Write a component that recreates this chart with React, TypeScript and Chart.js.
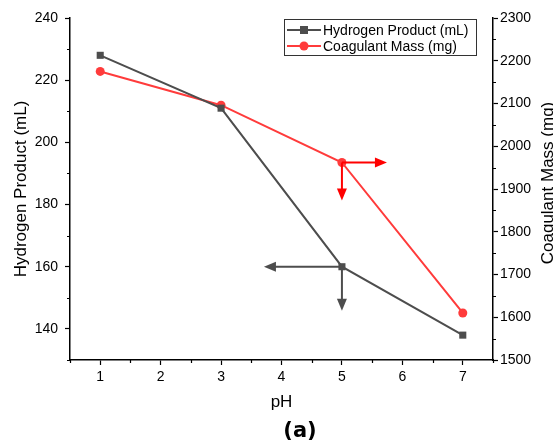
import React, { useEffect, useRef } from 'react';
import { Chart, registerables } from 'chart.js';

Chart.register(...registerables);

const phValues = [1, 3, 5, 7];
const hydrogenProduct = [228, 211, 160, 138];
const coagulantMass = [2175, 2096, 1962, 1610];

const xTickValues = [1, 2, 3, 4, 5, 6, 7];
const xMinorValues = [0.5, 1.5, 2.5, 3.5, 4.5, 5.5, 6.5, 7.5];
const leftTickValues = [140, 160, 180, 200, 220, 240];
const leftMinorValues = [130, 150, 170, 190, 210, 230];
const rightTickValues = [1500, 1600, 1700, 1800, 1900, 2000, 2100, 2200, 2300];
const rightMinorValues = [1550, 1650, 1750, 1850, 1950, 2050, 2150, 2250];

const hydrogenLabel = 'Hydrogen Product (mL)';
const coagulantLabel = 'Coagulant Mass (mg)';
const xTitle = 'pH';
const panelLabel = '(a)';

const FONT = "'Liberation Sans', Arial, sans-serif";
const GRAY = '#4d4d4d';
const RED = '#ff3b3b';

function arrow(ctx: CanvasRenderingContext2D, x1: number, y1: number, x2: number, y2: number, color: string) {
  const ang = Math.atan2(y2 - y1, x2 - x1);
  const head = 12;
  const half = 5;
  const c = Math.cos(ang);
  const s = Math.sin(ang);
  ctx.save();
  ctx.strokeStyle = color;
  ctx.fillStyle = color;
  ctx.lineWidth = 2;
  ctx.beginPath();
  ctx.moveTo(x1, y1);
  ctx.lineTo(x2 - c * head * 0.9, y2 - s * head * 0.9);
  ctx.stroke();
  ctx.beginPath();
  ctx.moveTo(x2, y2);
  ctx.lineTo(x2 - c * head - s * half, y2 - s * head + c * half);
  ctx.lineTo(x2 - c * head + s * half, y2 - s * head - c * half);
  ctx.closePath();
  ctx.fill();
  ctx.restore();
}

const decorPlugin = {
  id: 'decor',
  afterDraw(chart: any) {
    const ctx: CanvasRenderingContext2D = chart.ctx;
    const { x, y, y1 } = chart.scales;
    const area = chart.chartArea;
    // minor ticks
    ctx.save();
    ctx.strokeStyle = '#000';
    ctx.lineWidth = 1.2;
    ctx.beginPath();
    xMinorValues.forEach((v) => {
      const px = Math.round(x.getPixelForValue(v)) + 0.5;
      ctx.moveTo(px, area.bottom);
      ctx.lineTo(px, area.bottom + 3);
    });
    leftMinorValues.forEach((v) => {
      const py = Math.round(y.getPixelForValue(v)) + 0.5;
      ctx.moveTo(area.left, py);
      ctx.lineTo(area.left - 3, py);
    });
    rightMinorValues.forEach((v) => {
      const py = Math.round(y1.getPixelForValue(v)) + 0.5;
      ctx.moveTo(area.right, py);
      ctx.lineTo(area.right + 3, py);
    });
    ctx.stroke();
    ctx.restore();

    // arrows at pH 5
    const hp = chart.getDatasetMeta(0).data[2];
    const cp = chart.getDatasetMeta(1).data[2];
    if (hp) {
      arrow(ctx, hp.x, hp.y, hp.x - 78, hp.y, GRAY);
      arrow(ctx, hp.x, hp.y, hp.x, hp.y + 44, GRAY);
    }
    if (cp) {
      arrow(ctx, cp.x, cp.y, cp.x + 45, cp.y, '#ff0000');
      arrow(ctx, cp.x, cp.y, cp.x, cp.y + 38, '#ff0000');
    }

    // legend
    const lx = 284, ly = 19, lw = 192, lh = 36;
    ctx.save();
    ctx.fillStyle = '#fff';
    ctx.fillRect(lx, ly, lw, lh);
    ctx.strokeStyle = '#333';
    ctx.lineWidth = 1;
    ctx.strokeRect(lx + 0.5, ly + 0.5, lw, lh);
    const rows = [
      { label: hydrogenLabel, color: GRAY, marker: 'square' },
      { label: coagulantLabel, color: RED, marker: 'circle' },
    ];
    rows.forEach((r, i) => {
      const cy = ly + 11 + i * 16;
      ctx.strokeStyle = r.color;
      ctx.lineWidth = 2;
      ctx.beginPath();
      ctx.moveTo(lx + 3, cy);
      ctx.lineTo(lx + 37, cy);
      ctx.stroke();
      ctx.fillStyle = r.color;
      if (r.marker === 'square') {
        ctx.fillRect(lx + 20 - 4, cy - 4, 8, 8);
      } else {
        ctx.beginPath();
        ctx.arc(lx + 20, cy, 4.5, 0, Math.PI * 2);
        ctx.fill();
      }
      ctx.fillStyle = '#000';
      ctx.font = `14px ${FONT}`;
      ctx.textAlign = 'left';
      ctx.textBaseline = 'middle';
      ctx.fillText(r.label, lx + 39, cy + 1);
    });
    ctx.restore();

    // right axis title (rotated reading bottom-to-top)
    ctx.save();
    ctx.translate(548, 183);
    ctx.rotate(-Math.PI / 2);
    ctx.font = `17px ${FONT}`;
    ctx.fillStyle = '#000';
    ctx.textAlign = 'center';
    ctx.textBaseline = 'middle';
    ctx.fillText(coagulantLabel, 0, 0);
    ctx.restore();

    // panel label
    ctx.save();
    ctx.font = `bold 21px 'DejaVu Sans', sans-serif`;
    ctx.fillStyle = '#000';
    ctx.textAlign = 'center';
    ctx.textBaseline = 'middle';
    ctx.fillText(panelLabel, 300, 432);
    ctx.restore();
  },
};

export default function App() {
  const ref = useRef<HTMLCanvasElement>(null);
  useEffect(() => {
    if (!ref.current) return;
    const chart = new Chart(ref.current, {
      type: 'line',
      data: {
        datasets: [
          {
            label: hydrogenLabel,
            data: phValues.map((p, i) => ({ x: p, y: hydrogenProduct[i] })),
            borderColor: GRAY,
            backgroundColor: GRAY,
            borderWidth: 2,
            pointStyle: 'rect',
            pointRadius: 5,
            pointBorderWidth: 0,
            yAxisID: 'y',
          },
          {
            label: coagulantLabel,
            data: phValues.map((p, i) => ({ x: p, y: coagulantMass[i] })),
            borderColor: RED,
            backgroundColor: RED,
            borderWidth: 2,
            pointStyle: 'circle',
            pointRadius: 4.5,
            pointBorderWidth: 0,
            yAxisID: 'y1',
          },
        ],
      },
      options: {
        responsive: false,
        animation: false,
        layout: { padding: { top: 18, bottom: 30, left: 0, right: 0 } },
        plugins: { legend: { display: false }, tooltip: { enabled: false }, title: { display: false } },
        scales: {
          x: {
            type: 'linear',
            min: 0.5,
            max: 7.5,
            afterBuildTicks: (s: any) => { s.ticks = xTickValues.map((v) => ({ value: v })); },
            afterFit: (s: any) => { s.height = 55; },
            grid: { drawOnChartArea: false, tickLength: 5, tickColor: '#000', tickWidth: 1.2 },
            border: { color: '#000', width: 1.5 },
            ticks: { color: '#000', font: { family: FONT, size: 14 }, padding: 4, maxRotation: 0, callback: (v: any) => String(v) },
            title: { display: true, text: xTitle, color: '#000', font: { family: FONT, size: 17 }, padding: { top: 0, bottom: 2 } },
          },
          y: {
            type: 'linear',
            position: 'left',
            min: 130,
            max: 240,
            afterBuildTicks: (s: any) => { s.ticks = leftTickValues.map((v) => ({ value: v })); },
            afterFit: (s: any) => { s.width = 70; },
            grid: { drawOnChartArea: false, tickLength: 5, tickColor: '#000', tickWidth: 1.2 },
            border: { color: '#000', width: 1.5 },
            ticks: { color: '#000', font: { family: FONT, size: 14 }, padding: 7, callback: (v: any) => String(v) },
            title: { display: true, text: hydrogenLabel, color: '#000', font: { family: FONT, size: 17 }, padding: { top: 11, bottom: 0 } },
          },
          y1: {
            type: 'linear',
            position: 'right',
            min: 1500,
            max: 2300,
            afterBuildTicks: (s: any) => { s.ticks = rightTickValues.map((v) => ({ value: v })); },
            afterFit: (s: any) => { s.width = 60; },
            grid: { drawOnChartArea: false, tickLength: 5, tickColor: '#000', tickWidth: 1.2 },
            border: { color: '#000', width: 1.5 },
            ticks: { color: '#000', font: { family: FONT, size: 14 }, padding: 2, callback: (v: any) => String(v) },
            title: { display: false },
          },
        },
      },
      plugins: [decorPlugin],
    } as any);
    return () => chart.destroy();
  }, []);
  return (
    <div style={{ position: 'absolute', left: 0, top: 0, width: 553, height: 445, background: '#fff' }}>
      <canvas ref={ref} width={553} height={445} />
    </div>
  );
}
